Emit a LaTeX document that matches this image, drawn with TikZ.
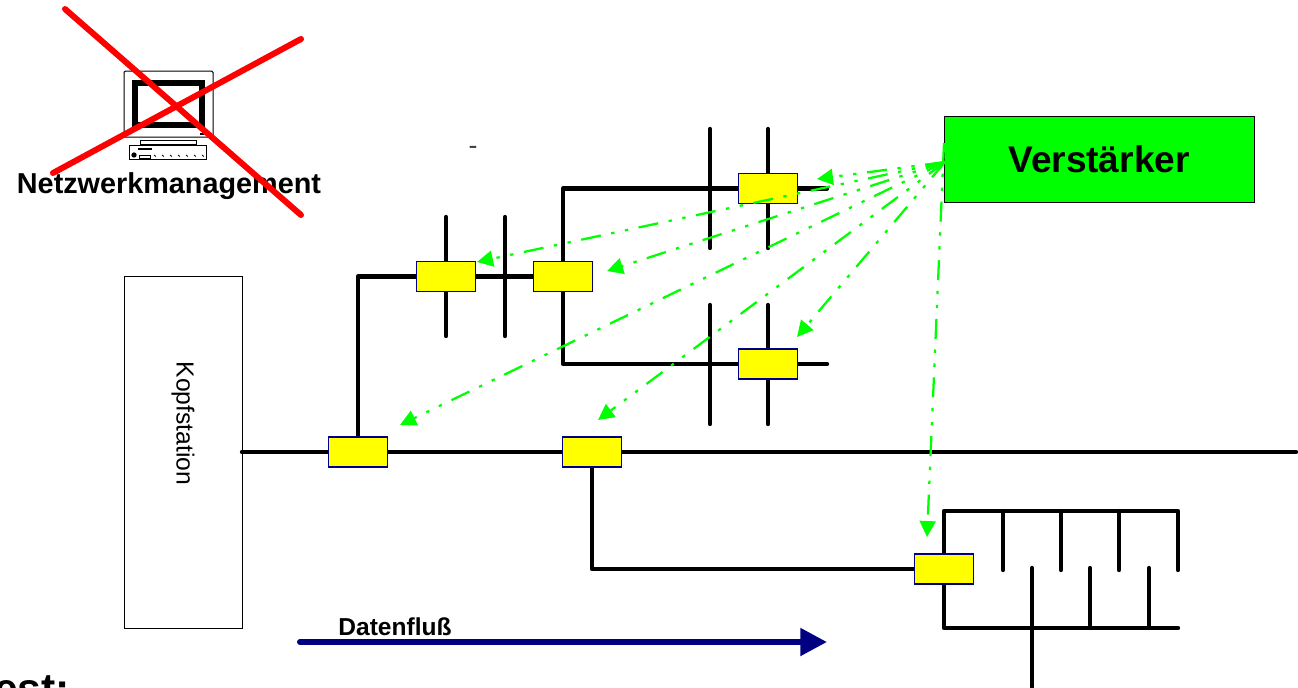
\documentclass[tikz,border=0pt]{standalone}
\usepackage{fontspec}
\setmainfont{Liberation Sans}
\usetikzlibrary{arrows.meta,backgrounds}
\definecolor{couplerfill}{RGB}{255,255,0}
\definecolor{ampfill}{RGB}{0,255,0}
\definecolor{flowblue}{RGB}{0,0,128}
\definecolor{crossred}{RGB}{255,0,0}

\begin{document}
\begin{tikzpicture}[x=0.75pt,y=-0.75pt,
  every node/.append style={inner sep=0pt,outer sep=0pt}]
  \tikzstyle{bus} = [line width=3.3pt,black,line cap=round,line join=round]
  \tikzstyle{coupler} = [draw=flowblue,fill=couplerfill,line width=1pt,minimum width=44.25pt,minimum height=22.5pt]
  \tikzstyle{signal} = [-{Triangle[length=12pt,width=12pt]},ampfill,line width=1.7pt,dash pattern=on 15pt off 8pt on 2.5pt off 8pt on 2.5pt off 8pt]
  \tikzstyle{cross} = [crossred,line width=4.5pt,line cap=round]
  \tikzstyle{label} = [font=\bfseries\fontsize{18.4}{20}\selectfont]
  \useasboundingbox (0,0) rectangle (1298,687);
  \clip (0,0) rectangle (1298,687);
  % head end
  \node (head) at (183,452) [draw,line width=0.75pt,minimum width=88.5pt,minimum height=264pt] {};
  \node (headlabel) at (183,423.5) [rotate=-90,font=\fontsize{18.5}{20}\selectfont] {Kopfstation};
  % couplers
  \node (c_1) at (358,452) [coupler] {};
  \node (c_2) at (592,452) [coupler] {};
  \node (c_3) at (446,276.5) [coupler] {};
  \node (c_4) at (563,276.5) [coupler] {};
  \node (c_5) at (768,188.5) [coupler] {};
  \node (c_6) at (768,364) [coupler] {};
  \node (c_7) at (944,569) [coupler] {};
  % lines, behind the couplers
  \coordinate (busend) at (1296,452);
  \coordinate (end_5) at (827,188.5);
  \coordinate (end_6) at (827,364);
  \coordinate (comb_1) at (1178,570);
  \coordinate (comb_2) at (1178,511);
  \coordinate (comb_3) at (1178,628);
  \begin{scope}[on background layer]
    \draw [bus] (head.east) -- (busend);
    \draw [bus] (c_1.north) |- (c_3.west);
    \draw [bus] (c_3.east) -- (c_4.west);
    \draw [bus] (c_4.north) |- (c_5.west);
    \draw [bus] (c_5.east) -- (end_5);
    \draw [bus] (c_4.south) |- (c_6.west);
    \draw [bus] (c_6.east) -- (end_6);
    \draw [bus] (c_2.south) |- (c_7.west);
    \draw [bus] (c_7.north) |- (comb_2) -- (comb_1);
    \draw [bus] (c_7.south) |- (comb_3);
    % taps through the branches
    \foreach \n/\x/\y in {1/446/217, 2/505/217, 3/710/129, 4/768/129, 5/710/305, 6/768/305}{
      \coordinate (t_\n) at (\x,\y);
      \coordinate (b_\n) at (\x,\y+119);
      \draw [bus] (t_\n) -- (b_\n);
    }
    \foreach \n/\x in {7/1003, 8/1061, 9/1119}{
      \coordinate (t_\n) at (\x,511);
      \coordinate (b_\n) at (\x,570);
      \draw [bus] (t_\n) -- (b_\n);
    }
    \foreach \n/\x/\y in {10/1032/687, 11/1090/628, 12/1149/628}{
      \coordinate (t_\n) at (\x,568);
      \coordinate (b_\n) at (\x,\y);
      \draw [bus] (t_\n) -- (b_\n);
    }
  \end{scope}
  % amplifier
  \node (amp) at (1099,159.5) [draw,fill=ampfill,line width=0.75pt,minimum width=232.5pt,minimum height=65pt,font=\bfseries\fontsize{27.8}{30}\selectfont] {Verstärker};
  \coordinate (ampout) at (945,162);
  \coordinate (amptop) at (944,143);
  \foreach \n/\x/\y in {1/817/179, 2/477/262, 3/607/271, 4/797/337, 5/400/425, 6/598/420}{
    \coordinate (s_\n) at (\x,\y);
    \draw [signal] (ampout) -- (s_\n);
  }
  \coordinate (s_7) at (927,537);
  \draw [signal] (amptop) -- (s_7);
  % data flow
  \node (flow) at (395,627) [label] {Datenfluß};
  \coordinate (flow_1) at (300,642);
  \coordinate (flow_2) at (827,642);
  \draw [-{Triangle[length=20pt,width=20pt]},flowblue,line width=4.5pt,line cap=round] (flow_1) -- (flow_2);
  \node (dash) at (473,150) [text=black!75,font=\fontsize{20}{22}\selectfont] {-};
  \node (cut) at (2,703) [anchor=base west,font=\bfseries\fontsize{32}{34}\selectfont,xshift=-6pt] {est:};
  % management station
  \node (nm) at (169,186) [font=\bfseries\fontsize{21.6}{24}\selectfont] {Netzwerkmanagement};
  \node (screen) at (168.5,104) [draw,line width=0.75pt,rounded corners=1pt,minimum width=66.75pt,minimum height=49.5pt] {};
  \node (bezel) at (168.5,104) [draw,line width=4.5pt,minimum width=50pt,minimum height=31.5pt] {};
  \node (led) at (201.5,134) [fill=black,minimum width=3pt,minimum height=1.5pt] {};
  \node (stand) at (168,142) [draw,line width=0.6pt,minimum width=42pt,minimum height=3pt] {};
  \node (kbd) at (168,152.5) [draw,line width=0.75pt,minimum width=58pt,minimum height=11pt] {};
  \node (slot) at (145,149) [fill=black,minimum width=10.5pt,minimum height=1.5pt] {};
  \node (knob) at (134,155) [circle,fill=black,minimum size=4pt] {};
  \node (tray) at (145,156.5) [draw,line width=0.5pt,minimum width=8pt,minimum height=2.5pt] {};
  \foreach \x in {154,162,...,202}
    \draw [line width=0.6pt] (\x,155) -- ++(2,1.5);
  \draw [cross] (65,9) -- (301,215);
  \draw [cross] (53,173) -- (301,39);
\end{tikzpicture}
\end{document}
